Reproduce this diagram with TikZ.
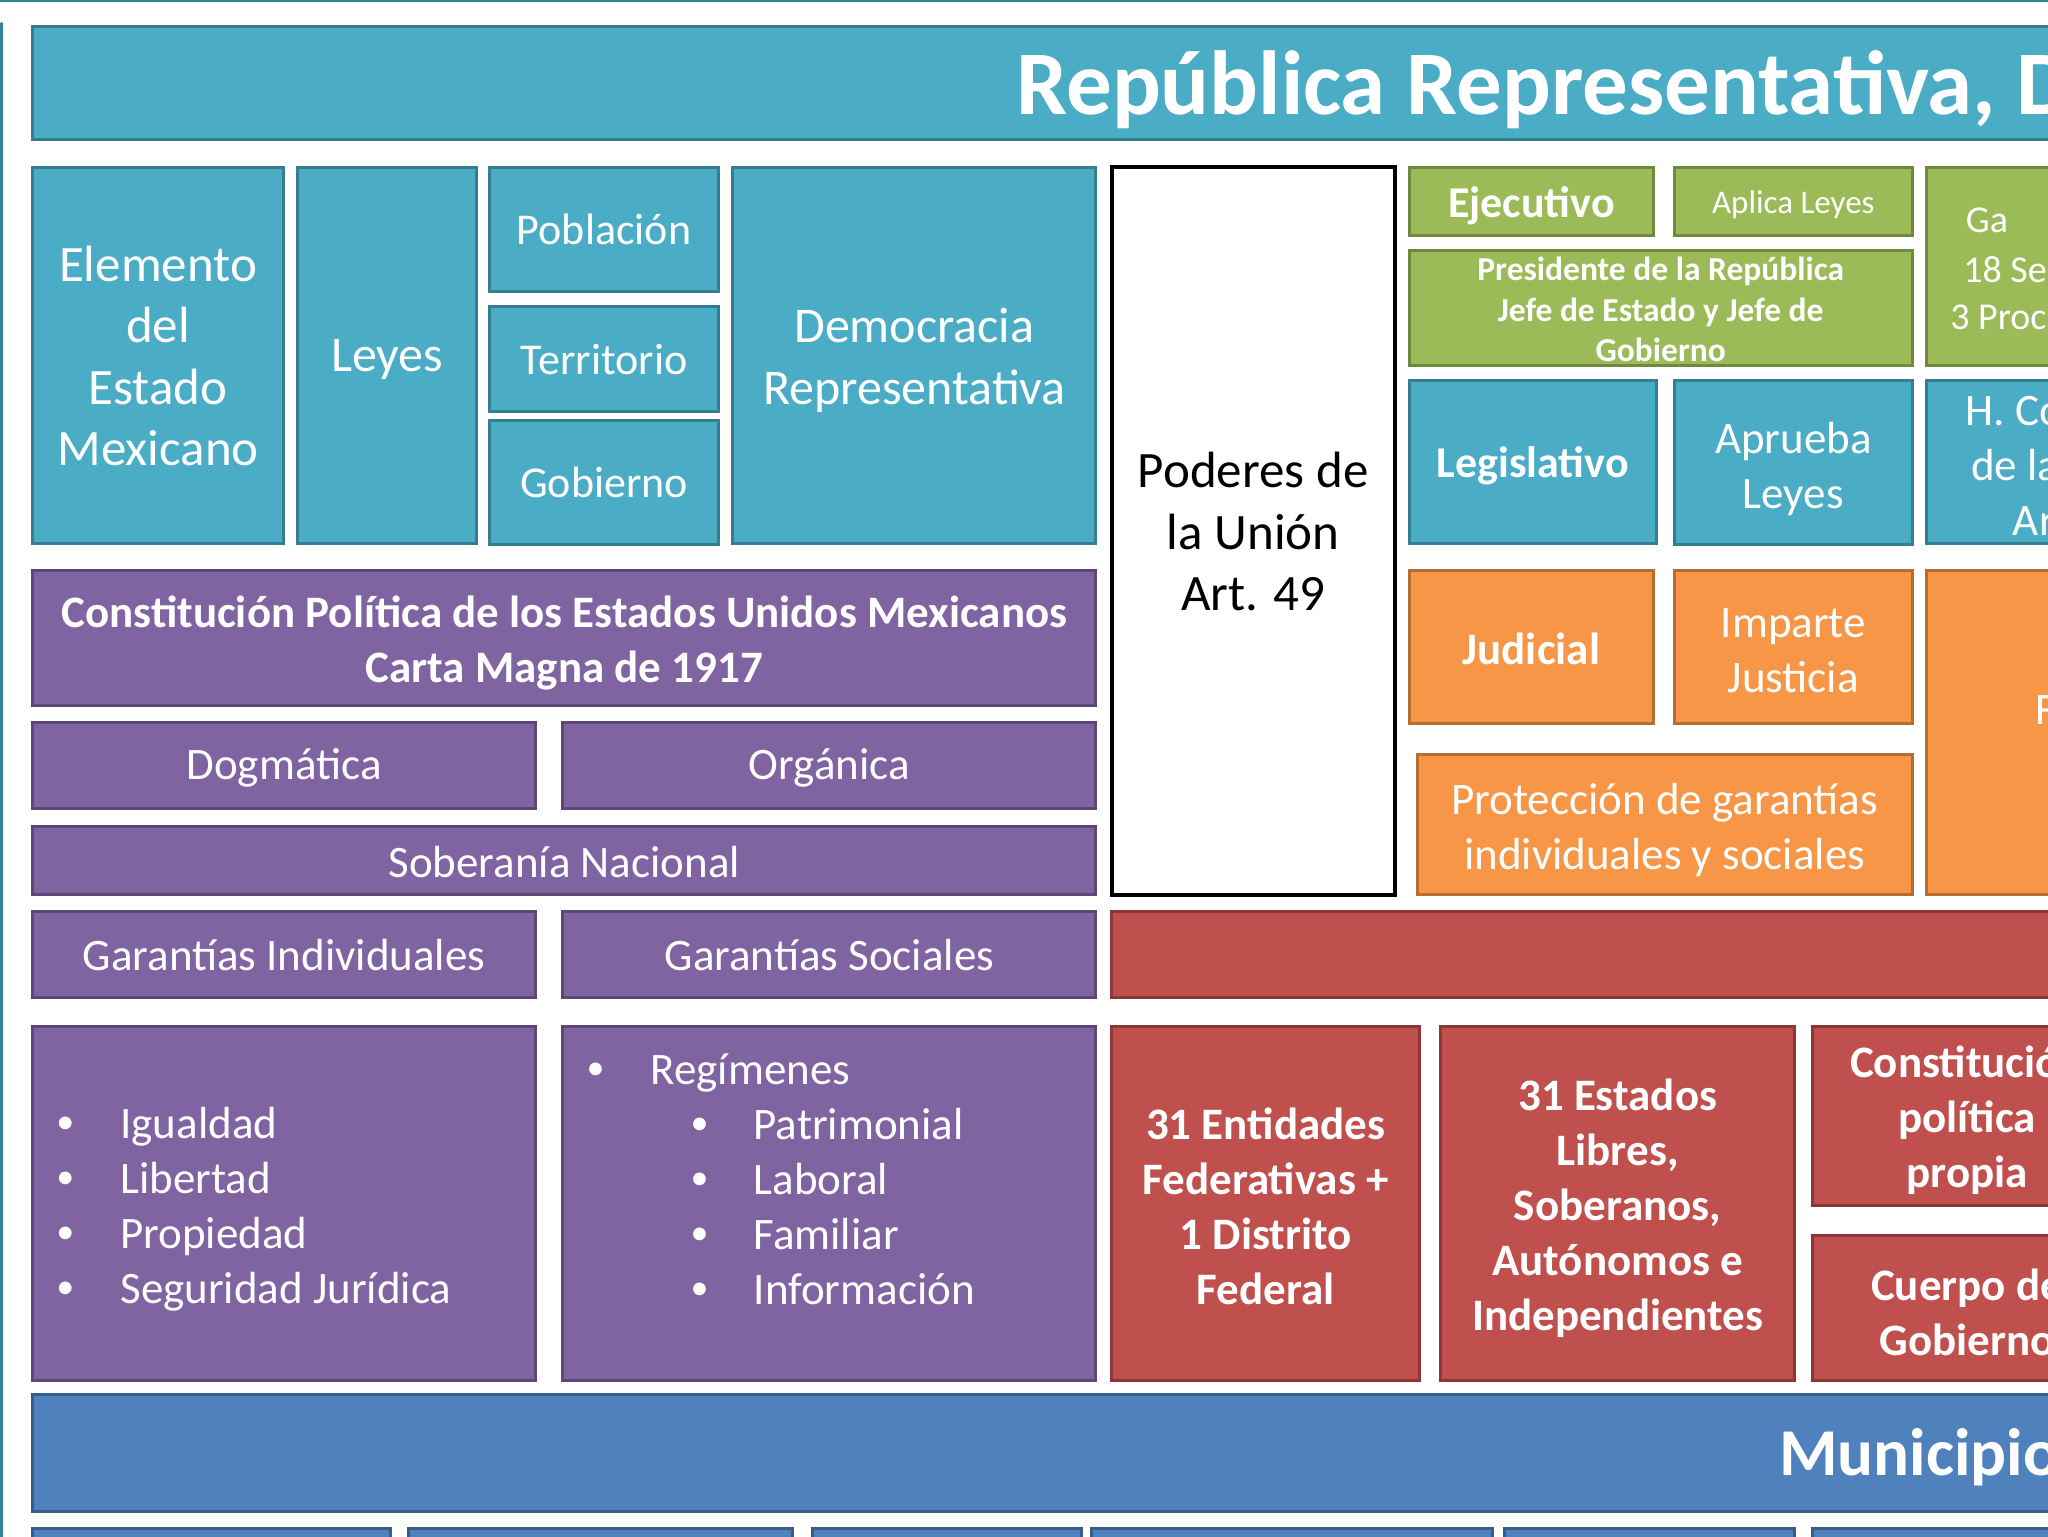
\documentclass[tikz,border=0pt]{standalone}
\usepackage{fontspec}
\setmainfont{Carlito}
\usetikzlibrary{fit}
\definecolor{cTeal}{HTML}{4BACC6}
\definecolor{cTealD}{HTML}{357D91}
\definecolor{cGreen}{HTML}{9BBB59}
\definecolor{cGreenD}{HTML}{71893F}
\definecolor{cOrange}{HTML}{F79646}
\definecolor{cOrangeD}{HTML}{B66D31}
\definecolor{cPurple}{HTML}{8064A2}
\definecolor{cPurpleD}{HTML}{5C4776}
\definecolor{cRed}{HTML}{C0504D}
\definecolor{cRedD}{HTML}{8C3836}
\definecolor{cBlue}{HTML}{4F81BD}
\definecolor{cBlueD}{HTML}{385D8A}
\definecolor{cFrame}{HTML}{31849B}
\tikzset{
  box/.style={draw, line width=3pt, inner sep=0pt},
  tealbox/.style={box, fill=cTeal, draw=cTealD},
  greenbox/.style={box, fill=cGreen, draw=cGreenD},
  orangebox/.style={box, fill=cOrange, draw=cOrangeD},
  purplebox/.style={box, fill=cPurple, draw=cPurpleD},
  redbox/.style={box, fill=cRed, draw=cRedD},
  bluebox/.style={box, fill=cBlue, draw=cBlueD},
  whitebox/.style={draw=black, line width=4pt, fill=white, inner sep=0pt},
  txt/.style={inner sep=0pt, text=white, align=center},
  fA/.style={font=\fontsize{51}{61.5}\selectfont},
  fB/.style={font=\fontsize{45}{55}\selectfont},
  fBb/.style={font=\bfseries\fontsize{45}{55}\selectfont},
  fS/.style={font=\fontsize{38}{47.7}\selectfont},
}
% box node + centred text node
\newcommand\bbox[5][]{\node[#2, fit={#4}] (#3) {};
  \node[txt,#1] (#3t) at (#3.center) {#5};}
\newcommand\bul{\raisebox{0.12em}{\fontsize{36}{36}\selectfont •}}
\begin{document}
\begin{tikzpicture}[x=1.3061pt, y=-1.3061pt]
\useasboundingbox (0,0) rectangle (1568,1176);
\clip (0,0) rectangle (1568,1176);
\fill[white] (0,0) rectangle (1568,1176);
% frame of the slide
\draw[cFrame, line width=3pt] (-5,0.6) -- (1600,0.6);
\draw[cFrame, line width=3.5pt, line cap=round] (1,18) -- (1,1200);

% title
\node[tealbox, fit={(25,20)(1700,107)}] (titlebar) {};
\node[txt, anchor=base west, font=\bfseries\fontsize{91}{100}\selectfont] (title) at (778,88) {República Representativa, D};

% row 1 teal
\bbox[fA, yshift=-0.5pt]{tealbox}{elem}{(25,128)(217,416)}{Elemento\\del\\Estado\\Mexicano}
\bbox[font=\fontsize{50}{60}\selectfont, yshift=-4.5pt]{tealbox}{leyes}{(228,128)(365,416)}{Leyes}
\bbox[font=\fontsize{44}{52}\selectfont]{tealbox}{pob}{(375,128)(550,223)}{Población}
\bbox[font=\fontsize{44}{52}\selectfont]{tealbox}{terr}{(375,235)(550,315)}{Territorio}
\bbox[font=\fontsize{44}{52}\selectfont]{tealbox}{gob}{(375,322)(550,417)}{Gobierno}
\bbox[font=\fontsize{50}{61.5}\selectfont, yshift=-5pt]{tealbox}{demo}{(561,128)(839,416)}{Democracia\\Representativa}

% poderes
\bbox[fA, text=black, yshift=-1pt]{whitebox}{poderes}{(851,128)(1068,685)}{Poderes de\\la Unión\\Art. 49}

% ejecutivo
\bbox[font=\bfseries\fontsize{44}{52}\selectfont, yshift=-4.5pt]{greenbox}{ejec}{(1079,128)(1266,180)}{Ejecutivo}
\bbox[font=\fontsize{33}{40}\selectfont, yshift=-4pt]{greenbox}{aplica}{(1282,128)(1464,180)}{Aplica Leyes}
\bbox[font=\bfseries\fontsize{33.5}{40.5}\selectfont, yshift=-1.3pt]{greenbox}{pres}{(1079,192)(1464,280)}{Presidente de la República\\Jefe de Estado y Jefe de\\Gobierno}
\node[greenbox, fit={(1475,128)(1700,280)}] (gab) {};
\node[txt, fS, anchor=base west] (gab1) at (1505,178) {Ga};
\node[txt, fS, anchor=base west] (gab2) at (1503,216) {18 Se};
\node[txt, fS, anchor=base west] (gab3) at (1493,252) {3 Proc};

% legislativo
\bbox[font=\bfseries\fontsize{44}{52}\selectfont, yshift=-4pt]{tealbox}{legis}{(1079,291)(1268,416)}{Legislativo}
\bbox[fB, yshift=-6.5pt]{tealbox}{aprueba}{(1282,291)(1464,417)}{Aprueba\\Leyes}
\node[tealbox, fit={(1475,291)(1700,416)}] (congreso) {};
\node[txt, fB, anchor=base west] (cong1) at (1505,326) {H. Co};
\node[txt, fB, anchor=base west] (cong2) at (1509,368) {de la};
\node[txt, fB, anchor=base west] (cong3) at (1541,410) {Ar};

% judicial
\bbox[font=\bfseries\fontsize{45}{52}\selectfont, yshift=-1.3pt]{orangebox}{judi}{(1079,437)(1266,554)}{Judicial}
\bbox[fB, yshift=-4pt]{orangebox}{imparte}{(1282,437)(1464,554)}{Imparte\\Justicia}
\bbox[fB, yshift=-5pt]{orangebox}{protec}{(1085,578)(1464,685)}{Protección de garantías\\individuales y sociales}
\node[orangebox, fit={(1475,437)(1700,685)}] (corte) {};
\node[txt, fB, anchor=base west] (corte1) at (1558,555) {F};

% constitucion (purple)
\bbox[fBb, yshift=-5pt]{purplebox}{const}{(25,437)(839,540)}{Constitución Política de los Estados Unidos Mexicanos\\Carta Magna de 1917}
\bbox[fB, yshift=-2.5pt]{purplebox}{dogma}{(25,553)(410,619)}{Dogmática}
\bbox[fB, yshift=-2.5pt]{purplebox}{organ}{(431,553)(839,619)}{Orgánica}
\bbox[fB, yshift=-1.3pt]{purplebox}{sober}{(25,633)(839,685)}{Soberanía Nacional}
\bbox[fB]{purplebox}{gind}{(25,698)(410,764)}{Garantías Individuales}
\bbox[fB]{purplebox}{gsoc}{(431,698)(839,764)}{Garantías Sociales}
\node[purplebox, fit={(25,786)(410,1057)}] (lind) {};
\node[purplebox, fit={(431,786)(839,1057)}] (lsoc) {};
\node[txt, fB, align=left, anchor=west] (lindt) at (43,926)
  {\makebox[64pt][l]{\bul}Igualdad\\\makebox[64pt][l]{\bul}Libertad\\\makebox[64pt][l]{\bul}Propiedad\\\makebox[64pt][l]{\bul}Seguridad Jurídica};
\node[txt, fB, align=left, anchor=west] (lsoct) at (449,903)
  {\makebox[64pt][l]{\bul}Regímenes\\
   \hspace{104pt}\makebox[63pt][l]{\bul}Patrimonial\\
   \hspace{104pt}\makebox[63pt][l]{\bul}Laboral\\
   \hspace{104pt}\makebox[63pt][l]{\bul}Familiar\\
   \hspace{104pt}\makebox[63pt][l]{\bul}Información};

% federacion (red)
\node[redbox, fit={(851,698)(1700,764)}] (redbar) {};
\bbox[fBb, yshift=-2.5pt]{redbox}{entid}{(851,786)(1087,1057)}{31 Entidades\\Federativas +\\1 Distrito\\Federal}
\bbox[fBb, yshift=-5pt]{redbox}{estados}{(1103,786)(1374,1057)}{31 Estados\\Libres,\\Soberanos,\\Autónomos e\\Independientes}
\node[redbox, fit={(1388,786)(1700,923)}] (cpp) {};
\node[txt, fBb] (cppt) at (1506,858) {Constitución\\política\\propia};
\node[redbox, fit={(1388,946)(1700,1057)}] (cuerpo) {};
\node[txt, fBb] (cuerpot) at (1506,1005) {Cuerpo de\\Gobierno};

% municipio
\node[bluebox, fit={(25,1068)(1700,1157)}] (munbar) {};
\node[txt, anchor=base west, font=\bfseries\fontsize{67}{80}\selectfont] (mun) at (1362,1130) {Municipio};

% bottom row
\node[bluebox, fit={(25,1170)(299,1210)}] (b1) {};
\node[bluebox, fit={(313,1170)(607,1210)}] (b2) {};
\node[bluebox, fit={(622,1170)(828,1210)}] (b3) {};
\node[bluebox, fit={(836,1170)(1143,1210)}] (b4) {};
\node[bluebox, fit={(1152,1170)(1374,1210)}] (b5) {};
\node[bluebox, fit={(1388,1170)(1700,1210)}] (b6) {};
\end{tikzpicture}
\end{document}
